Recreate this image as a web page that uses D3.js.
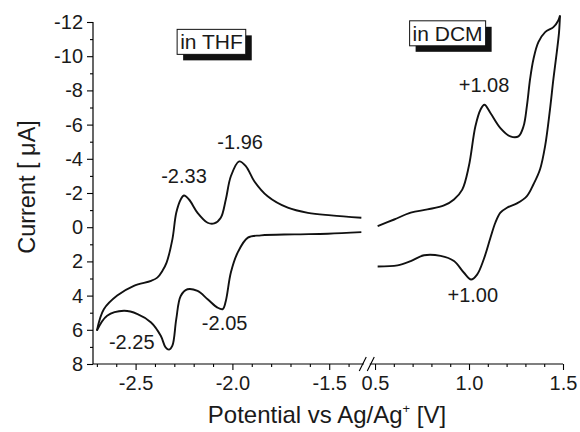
<!DOCTYPE html>
<html>
<head>
<meta charset="utf-8">
<script src="https://cdn.jsdelivr.net/npm/d3@7"></script>
<style>
  body { margin: 0; background: #fff; }
  svg { display: block; font-family: "Liberation Sans", Arial, sans-serif; }
  .tick text { font-family: "Liberation Sans", Arial, sans-serif; }
</style>
</head>
<body>
<svg id="chart" width="580" height="432"></svg>
<script>
// ---- data: [potential V, current uA] ----
// THF scan, cathodic branch (right end -> left vertex)
const thfLower = [[-1.334,0.29],[-1.507,0.38],[-1.68,0.42],[-1.852,0.48],[-1.92,0.61],[-1.973,1.49],
  [-2.008,2.65],[-2.034,4.31],[-2.05,4.79],[-2.077,4.7],[-2.128,4.21],[-2.18,3.73],[-2.232,3.63],
  [-2.267,4.02],[-2.29,5.38],[-2.31,6.93],[-2.327,7.16],[-2.345,7.03],[-2.37,6.35],[-2.42,5.57],
  [-2.49,5.08],[-2.56,4.89],[-2.647,5.18],[-2.70,6.05]];
// THF scan, anodic branch (left vertex -> right end)
const thfUpper = [[-2.70,6.05],[-2.664,4.8],[-2.595,4.0],[-2.509,3.43],[-2.42,3.14],[-2.388,2.95],
  [-2.362,2.56],[-2.34,2.07],[-2.31,0.71],[-2.29,-0.84],[-2.267,-1.62],[-2.25,-1.85],[-2.224,-1.62],
  [-2.18,-0.84],[-2.128,-0.26],[-2.094,-0.22],[-2.06,-0.55],[-2.034,-1.62],[-2.008,-2.98],
  [-1.965,-3.85],[-1.93,-3.56],[-1.887,-2.69],[-1.818,-1.81],[-1.714,-1.14],[-1.61,-0.84],
  [-1.49,-0.69],[-1.334,-0.55]];
// DCM scan, forward (left -> right vertex)
const dcmUpper = [[0.514,-0.06],[0.602,-0.45],[0.69,-0.85],[0.779,-1.04],[0.867,-1.27],[0.92,-1.62],
  [0.964,-2.2],[0.999,-3.56],[1.034,-5.9],[1.061,-6.87],[1.082,-7.16],[1.114,-6.68],[1.167,-5.8],
  [1.22,-5.31],[1.263,-5.31],[1.29,-5.9],[1.308,-7.1],[1.325,-8.67],[1.343,-9.84],[1.369,-10.82],
  [1.405,-11.41],[1.449,-11.7],[1.475,-12.09],[1.484,-12.38]];
// DCM scan, reverse (right vertex -> left)
const dcmLower = [[1.484,-12.38],[1.479,-11.41],[1.467,-10.24],[1.449,-8.67],[1.431,-6.91],
  [1.405,-4.76],[1.378,-3.39],[1.343,-2.51],[1.308,-1.82],[1.255,-1.39],[1.202,-1.14],[1.167,-0.85],
  [1.14,-0.26],[1.114,0.62],[1.078,1.89],[1.043,2.77],[1.011,3.06],[0.972,2.65],[0.92,1.98],
  [0.849,1.68],[0.761,1.64],[0.69,1.98],[0.62,2.23],[0.514,2.3]];

const yMajor = [-12,-10,-8,-6,-4,-2,0,2,4,6,8];
const yMinor = [-11,-9,-7,-5,-3,-1,1,3,5,7];
const xLeftMajor = [-2.5,-2.0,-1.5];
const xLeftMinor = [-2.7,-2.6,-2.4,-2.3,-2.2,-2.1,-1.9,-1.8,-1.7,-1.6,-1.4];
const xRightMajor = [0.5,1.0,1.5];
const xRightMinor = [0.6,0.7,0.8,0.9,1.1,1.2,1.3,1.4];

const peakLabels = [
  {side:"L", v:-2.25, i:-2.6, text:"-2.33"},
  {side:"L", v:-1.96, i:-4.6, text:"-1.96"},
  {side:"L", v:-2.52, i:7.1, text:"-2.25"},
  {side:"L", v:-2.04, i:6.0, text:"-2.05"},
  {side:"R", v:1.08, i:-7.9, text:"+1.08"},
  {side:"R", v:1.02, i:4.4, text:"+1.00"}
];
const solventBoxes = [
  {side:"L", v:-2.27, i:-10.4, text:"in THF"},
  {side:"R", v:0.70, i:-10.9, text:"in DCM"}
];

// ---- scales ----
const svg = d3.select("#chart");
const y = d3.scaleLinear().domain([-12, 8]).range([22, 364]);
const xL = d3.scaleLinear().domain([-2.72, -1.31]).range([93, 366]);
const xR = d3.scaleLinear().domain([0.46, 1.5]).range([367.5, 563]);
const xOf = s => s === "L" ? xL : xR;

const fmt1 = d => d.toFixed(1);
const fmtI = d => String(d);

// ---- axes ----
const axisG = svg.append("g");
function drawAxis(gen, tr) {
  const g = axisG.append("g").attr("transform", tr).call(gen);
  g.select(".domain").remove();
  g.selectAll(".tick line").attr("stroke", "#000").attr("stroke-width", 1.1);
  g.selectAll(".tick text").attr("fill", "#1a1a1a").style("font-size", "20px");
  return g;
}
drawAxis(d3.axisLeft(y).tickValues(yMajor).tickSize(6).tickPadding(4).tickFormat(fmtI), "translate(93,0)");
drawAxis(d3.axisLeft(y).tickValues(yMinor).tickSize(3).tickFormat(""), "translate(93,0)");
drawAxis(d3.axisBottom(xL).tickValues(xLeftMajor).tickSize(6).tickPadding(6).tickFormat(fmt1), "translate(0,364)");
drawAxis(d3.axisBottom(xL).tickValues(xLeftMinor).tickSize(3).tickFormat(""), "translate(0,364)");
drawAxis(d3.axisBottom(xR).tickValues(xRightMajor).tickSize(6).tickPadding(6).tickFormat(fmt1), "translate(0,364)");
drawAxis(d3.axisBottom(xR).tickValues(xRightMinor).tickSize(3).tickFormat(""), "translate(0,364)");

// axis lines
axisG.append("line").attr("x1", 93).attr("x2", 93).attr("y1", y(-12)).attr("y2", y(8))
  .attr("stroke", "#000").attr("stroke-width", 1.2);
axisG.append("line").attr("x1", 93).attr("x2", xR(1.5)).attr("y1", y(8)).attr("y2", y(8))
  .attr("stroke", "#000").attr("stroke-width", 1.2);

// axis break marks
const bx = (xL.range()[1] + xR.range()[0]) / 2;
axisG.append("rect").attr("x", bx - 3).attr("y", y(8) - 2).attr("width", 6).attr("height", 4).attr("fill", "#fff");
[-4, 4].forEach(off => {
  axisG.append("line")
    .attr("x1", bx + off - 3.5).attr("y1", y(8) + 7)
    .attr("x2", bx + off + 3.5).attr("y2", y(8) - 7)
    .attr("stroke", "#000").attr("stroke-width", 1.1);
});

// ---- curves ----
const lineL = d3.line().x(d => xL(d[0])).y(d => y(d[1])).curve(d3.curveCatmullRom.alpha(0.5));
const lineR = d3.line().x(d => xR(d[0])).y(d => y(d[1])).curve(d3.curveCatmullRom.alpha(0.5));
[thfLower, thfUpper].forEach(d => svg.append("path").attr("d", lineL(d))
  .attr("fill", "none").attr("stroke", "#111").attr("stroke-width", 1.9).attr("stroke-linejoin", "round"));
[dcmUpper, dcmLower].forEach(d => svg.append("path").attr("d", lineR(d))
  .attr("fill", "none").attr("stroke", "#111").attr("stroke-width", 1.9).attr("stroke-linejoin", "round"));

// ---- peak labels ----
svg.append("g").selectAll("text").data(peakLabels).enter().append("text")
  .attr("x", d => xOf(d.side)(d.v)).attr("y", d => y(d.i))
  .attr("text-anchor", "middle").style("font-size", "20px").attr("fill", "#1a1a1a")
  .text(d => d.text);

// ---- solvent boxes with drop shadow ----
solventBoxes.forEach(b => {
  const g = svg.append("g");
  const t = g.append("text").attr("x", xOf(b.side)(b.v)).attr("y", y(b.i))
    .style("font-size", "21px").attr("fill", "#1a1a1a").text(b.text);
  const bb = t.node().getBBox();
  const pad = 3;
  g.insert("rect", "text").attr("x", bb.x - pad + 6).attr("y", bb.y - 1 + 6)
    .attr("width", bb.width + 2 * pad).attr("height", bb.height + 2).attr("fill", "#111");
  g.insert("rect", "text").attr("x", bb.x - pad).attr("y", bb.y - 1)
    .attr("width", bb.width + 2 * pad).attr("height", bb.height + 2)
    .attr("fill", "#fff").attr("stroke", "#111").attr("stroke-width", 1);
});

// ---- titles ----
svg.append("text").attr("transform", "translate(35,187) rotate(-90)")
  .attr("text-anchor", "middle").style("font-size", "23.5px").attr("fill", "#1a1a1a")
  .text("Current [ \u03bcA]");
const xt = svg.append("text").attr("x", 327).attr("y", 423).attr("text-anchor", "middle")
  .style("font-size", "24px").attr("fill", "#1a1a1a");
xt.append("tspan").text("Potential vs Ag/Ag");
xt.append("tspan").attr("dy", -10).style("font-size", "13px").text("+");
xt.append("tspan").attr("dy", 10).text(" [V]");
</script>
</body>
</html>
